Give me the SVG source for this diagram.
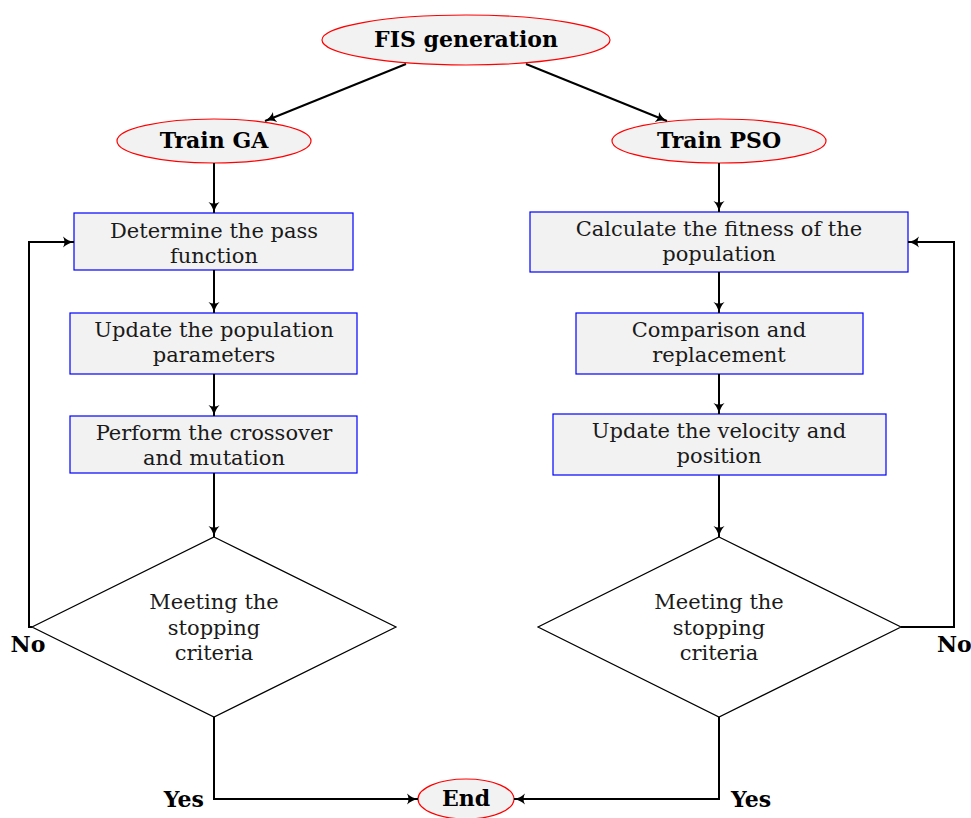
<svg xmlns="http://www.w3.org/2000/svg" width="971" height="818" viewBox="0 0 971 818">
<style>
.term{fill:#f2f2f2;stroke:#ff0000;stroke-width:1.2}
.box{fill:#f2f2f2;stroke:#0000ff;stroke-width:1.2}
.dia{fill:#ffffff;stroke:#000000;stroke-width:1.2}
.t{font-family:"DejaVu Serif","Liberation Serif",serif;font-size:21px;fill:#1a1a1a;text-anchor:middle}
.b{font-family:"DejaVu Serif","Liberation Serif",serif;font-size:22px;font-weight:bold;fill:#000;text-anchor:middle}
.c{fill:none;stroke:#000;stroke-width:2;marker-end:url(#ah)}
</style>
<defs>
<marker id="ah" markerWidth="12" markerHeight="12" refX="11" refY="6" orient="auto" markerUnits="userSpaceOnUse">
<path d="M0,0.5 Q5,5 11,6 Q5,7 0,11.5 Q3,6 0,0.5 Z" fill="#000"/>
</marker>
</defs>
<g id="fis"><ellipse class="term" cx="466" cy="40" rx="144" ry="25"/><text class="b" x="466" y="47">FIS generation</text></g>
<g id="trainga"><ellipse class="term" cx="214" cy="141" rx="97" ry="22"/><text class="b" x="214" y="148">Train GA</text></g>
<g id="trainpso"><ellipse class="term" cx="719" cy="141" rx="107" ry="22"/><text class="b" x="719" y="148">Train PSO</text></g>
<g id="ga1"><rect class="box" x="74" y="213" width="279" height="57"/><text class="t" x="214" y="238">Determine the pass</text><text class="t" x="214" y="263">function</text></g>
<g id="ga2"><rect class="box" x="70" y="313" width="287" height="61"/><text class="t" x="214" y="337">Update the population</text><text class="t" x="214" y="362">parameters</text></g>
<g id="ga3"><rect class="box" x="70" y="416" width="287" height="57"/><text class="t" x="214" y="440">Perform the crossover</text><text class="t" x="214" y="465">and mutation</text></g>
<g id="gad"><polygon class="dia" points="214,537 396,627 214,717 32,627"/><text class="t" x="214" y="609">Meeting the</text><text class="t" x="214" y="635">stopping</text><text class="t" x="214" y="660">criteria</text></g>
<g id="pso1"><rect class="box" x="530" y="212" width="378" height="60"/><text class="t" x="719" y="236">Calculate the fitness of the</text><text class="t" x="719" y="261">population</text></g>
<g id="pso2"><rect class="box" x="576" y="313" width="287" height="61"/><text class="t" x="719" y="337">Comparison and</text><text class="t" x="719" y="362">replacement</text></g>
<g id="pso3"><rect class="box" x="553" y="414" width="333" height="61"/><text class="t" x="719" y="438">Update the velocity and</text><text class="t" x="719" y="463">position</text></g>
<g id="psod"><polygon class="dia" points="719,537 901,627 719,717 538,627"/><text class="t" x="719" y="609">Meeting the</text><text class="t" x="719" y="635">stopping</text><text class="t" x="719" y="660">criteria</text></g>
<g id="end"><ellipse class="term" cx="466" cy="799" rx="48" ry="20"/><text class="b" x="466" y="806">End</text></g>
<g id="connectors">
<path class="c" d="M406,64 L265,121"/>
<path class="c" d="M526,64 L667,121"/>
<path class="c" d="M214,163 L214,213"/>
<path class="c" d="M214,270 L214,313"/>
<path class="c" d="M214,374 L214,416"/>
<path class="c" d="M214,473 L214,537"/>
<path class="c" d="M719,163 L719,212"/>
<path class="c" d="M719,272 L719,313"/>
<path class="c" d="M719,374 L719,414"/>
<path class="c" d="M719,475 L719,537"/>
<path class="c" d="M32,627 L29,627 L29,242 L74,242"/>
<path class="c" d="M901,627 L954,627 L954,242 L908,242"/>
<path class="c" d="M214,717 L214,799 L418,799"/>
<path class="c" d="M719,717 L719,799 L514,799"/>
<text class="b" x="28" y="652">No</text>
<text class="b" x="937" y="652" style="text-anchor:start">No</text>
<text class="b" x="204" y="807" style="text-anchor:end">Yes</text>
<text class="b" x="731" y="807" style="text-anchor:start">Yes</text>
</g>
</svg>
